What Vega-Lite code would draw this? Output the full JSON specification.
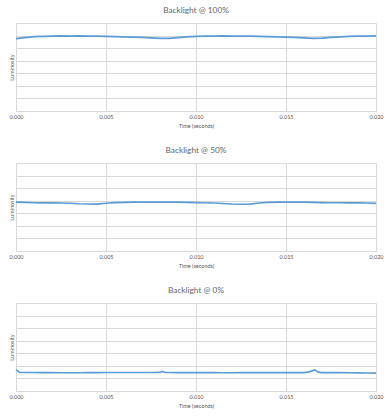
{
  "$schema": "https://vega.github.io/schema/vega-lite/v6.json",
  "background": "white",
  "padding": {"left": 8, "top": 5, "right": 13, "bottom": 5},
  "bounds": "flush",
  "spacing": 52,
  "datasets": {
    "p100": [
      {"t": 0, "lum": 5.76}, {"t": 0.0005, "lum": 5.84}, {"t": 0.001, "lum": 5.91}, {"t": 0.0015, "lum": 5.93},
      {"t": 0.002, "lum": 5.95}, {"t": 0.0025, "lum": 5.97}, {"t": 0.003, "lum": 5.96}, {"t": 0.0035, "lum": 5.97},
      {"t": 0.004, "lum": 5.96}, {"t": 0.0045, "lum": 5.95}, {"t": 0.005, "lum": 5.93}, {"t": 0.0055, "lum": 5.92},
      {"t": 0.006, "lum": 5.9}, {"t": 0.0065, "lum": 5.87}, {"t": 0.007, "lum": 5.85}, {"t": 0.0075, "lum": 5.81},
      {"t": 0.008, "lum": 5.78}, {"t": 0.0085, "lum": 5.78}, {"t": 0.009, "lum": 5.84}, {"t": 0.0095, "lum": 5.9},
      {"t": 0.01, "lum": 5.93}, {"t": 0.0105, "lum": 5.95}, {"t": 0.011, "lum": 5.96}, {"t": 0.0115, "lum": 5.97},
      {"t": 0.012, "lum": 5.96}, {"t": 0.0125, "lum": 5.96}, {"t": 0.013, "lum": 5.95}, {"t": 0.0135, "lum": 5.93},
      {"t": 0.014, "lum": 5.91}, {"t": 0.0145, "lum": 5.89}, {"t": 0.015, "lum": 5.87}, {"t": 0.0155, "lum": 5.85},
      {"t": 0.016, "lum": 5.81}, {"t": 0.0165, "lum": 5.78}, {"t": 0.017, "lum": 5.79}, {"t": 0.0175, "lum": 5.85},
      {"t": 0.018, "lum": 5.9}, {"t": 0.0185, "lum": 5.93}, {"t": 0.019, "lum": 5.95}, {"t": 0.0195, "lum": 5.96},
      {"t": 0.02, "lum": 5.97}
    ],
    "p50": [
      {"t": 0, "lum": 3.88}, {"t": 0.0005, "lum": 3.87}, {"t": 0.001, "lum": 3.84}, {"t": 0.0015, "lum": 3.83},
      {"t": 0.002, "lum": 3.83}, {"t": 0.0025, "lum": 3.82}, {"t": 0.003, "lum": 3.8}, {"t": 0.0035, "lum": 3.76},
      {"t": 0.004, "lum": 3.74}, {"t": 0.0045, "lum": 3.73}, {"t": 0.005, "lum": 3.8}, {"t": 0.0055, "lum": 3.85},
      {"t": 0.006, "lum": 3.87}, {"t": 0.0065, "lum": 3.88}, {"t": 0.007, "lum": 3.89}, {"t": 0.0075, "lum": 3.89},
      {"t": 0.008, "lum": 3.89}, {"t": 0.0085, "lum": 3.88}, {"t": 0.009, "lum": 3.88}, {"t": 0.0095, "lum": 3.87},
      {"t": 0.01, "lum": 3.85}, {"t": 0.0105, "lum": 3.84}, {"t": 0.011, "lum": 3.82}, {"t": 0.0115, "lum": 3.78},
      {"t": 0.012, "lum": 3.74}, {"t": 0.0125, "lum": 3.72}, {"t": 0.013, "lum": 3.73}, {"t": 0.0135, "lum": 3.82},
      {"t": 0.014, "lum": 3.86}, {"t": 0.0145, "lum": 3.88}, {"t": 0.015, "lum": 3.89}, {"t": 0.0155, "lum": 3.89},
      {"t": 0.016, "lum": 3.88}, {"t": 0.0165, "lum": 3.87}, {"t": 0.017, "lum": 3.85}, {"t": 0.0175, "lum": 3.84},
      {"t": 0.018, "lum": 3.84}, {"t": 0.0185, "lum": 3.83}, {"t": 0.019, "lum": 3.83}, {"t": 0.0195, "lum": 3.82},
      {"t": 0.02, "lum": 3.79}
    ],
    "p0": [
      {"t": 0, "lum": 1.7}, {"t": 0.0002, "lum": 1.48}, {"t": 0.0005, "lum": 1.47}, {"t": 0.001, "lum": 1.47},
      {"t": 0.0015, "lum": 1.46}, {"t": 0.002, "lum": 1.46}, {"t": 0.0025, "lum": 1.45}, {"t": 0.003, "lum": 1.45},
      {"t": 0.0035, "lum": 1.45}, {"t": 0.004, "lum": 1.46}, {"t": 0.0045, "lum": 1.46}, {"t": 0.005, "lum": 1.47},
      {"t": 0.0055, "lum": 1.47}, {"t": 0.006, "lum": 1.47}, {"t": 0.0065, "lum": 1.47}, {"t": 0.007, "lum": 1.47},
      {"t": 0.0075, "lum": 1.47}, {"t": 0.008, "lum": 1.48}, {"t": 0.0081, "lum": 1.55}, {"t": 0.0083, "lum": 1.47},
      {"t": 0.0085, "lum": 1.47}, {"t": 0.009, "lum": 1.46}, {"t": 0.0095, "lum": 1.46}, {"t": 0.01, "lum": 1.47},
      {"t": 0.0105, "lum": 1.46}, {"t": 0.011, "lum": 1.46}, {"t": 0.0115, "lum": 1.45}, {"t": 0.012, "lum": 1.45},
      {"t": 0.0125, "lum": 1.46}, {"t": 0.013, "lum": 1.46}, {"t": 0.0135, "lum": 1.46}, {"t": 0.014, "lum": 1.46},
      {"t": 0.0145, "lum": 1.47}, {"t": 0.015, "lum": 1.46}, {"t": 0.0155, "lum": 1.46}, {"t": 0.016, "lum": 1.46},
      {"t": 0.0163, "lum": 1.52}, {"t": 0.0166, "lum": 1.68}, {"t": 0.0168, "lum": 1.5}, {"t": 0.017, "lum": 1.46},
      {"t": 0.0175, "lum": 1.46}, {"t": 0.018, "lum": 1.46}, {"t": 0.0185, "lum": 1.45}, {"t": 0.019, "lum": 1.44},
      {"t": 0.0195, "lum": 1.43}, {"t": 0.02, "lum": 1.42}
    ]
  },
  "vconcat": [
    {
      "title": {"text": "Backlight @ 100%"},
      "data": {"name": "p100"},
      "width": 360, "height": 88,
      "mark": {"type": "line", "color": "#5b9bd5", "strokeWidth": 1.7},
      "encoding": {
        "x": {"field": "t", "type": "quantitative", "title": "Time (seconds)", "scale": {"domain": [0, 0.02]},
              "axis": {"values": [0, 0.005, 0.01, 0.015, 0.02], "format": ".3f"}},
        "y": {"field": "lum", "type": "quantitative", "title": "Luminosity", "scale": {"domain": [0, 7]},
              "axis": {"values": [0, 1, 2, 3, 4, 5, 6, 7]}}
      }
    },
    {
      "title": {"text": "Backlight @ 50%"},
      "data": {"name": "p50"},
      "width": 360, "height": 88,
      "mark": {"type": "line", "color": "#5b9bd5", "strokeWidth": 1.7},
      "encoding": {
        "x": {"field": "t", "type": "quantitative", "title": "Time (seconds)", "scale": {"domain": [0, 0.02]},
              "axis": {"values": [0, 0.005, 0.01, 0.015, 0.02], "format": ".3f"}},
        "y": {"field": "lum", "type": "quantitative", "title": "Luminosity", "scale": {"domain": [0, 7]},
              "axis": {"values": [0, 1, 2, 3, 4, 5, 6, 7]}}
      }
    },
    {
      "title": {"text": "Backlight @ 0%"},
      "data": {"name": "p0"},
      "width": 360, "height": 88,
      "mark": {"type": "line", "color": "#5b9bd5", "strokeWidth": 1.7},
      "encoding": {
        "x": {"field": "t", "type": "quantitative", "title": "Time (seconds)", "scale": {"domain": [0, 0.02]},
              "axis": {"values": [0, 0.005, 0.01, 0.015, 0.02], "format": ".3f"}},
        "y": {"field": "lum", "type": "quantitative", "title": "Luminosity", "scale": {"domain": [0, 7]},
              "axis": {"values": [0, 1, 2, 3, 4, 5, 6, 7]}}
      }
    }
  ],
  "config": {
    "font": "Lato",
    "view": {"stroke": null},
    "title": {"fontSize": 8.3, "fontWeight": 400, "color": "#666666", "anchor": "middle", "frame": "group", "offset": 9},
    "axisX": {
      "labelFontSize": 5.5, "labelColor": "#595959", "labelPadding": 3, "labelFlush": false,
      "ticks": false, "domainColor": "#d9d9d9", "gridColor": "#d9d9d9",
      "titleFontSize": 5.5, "titleFontWeight": 400, "titleColor": "#595959", "titlePadding": 4
    },
    "axisY": {
      "labels": false, "ticks": false, "domain": false, "gridColor": "#d9d9d9",
      "titleFontSize": 5.5, "titleFontWeight": 400, "titleColor": "#595959", "titlePadding": 2
    }
  }
}
